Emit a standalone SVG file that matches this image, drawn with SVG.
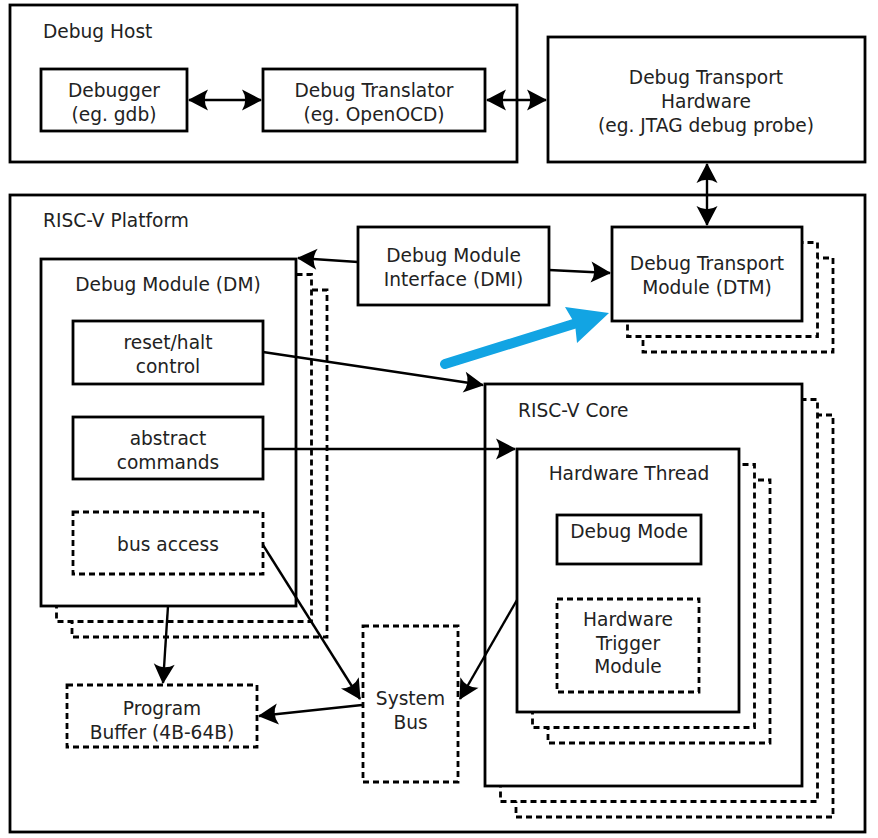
<svg xmlns="http://www.w3.org/2000/svg" width="878" height="838" viewBox="0 0 878 838">
<style>
.b{fill:#fff;stroke:#000;stroke-width:2.8}
.d{fill:#fff;stroke:#000;stroke-width:2.8;stroke-dasharray:6 4}
.c{fill:none;stroke:#000;stroke-width:2.4;marker-end:url(#ah)}
.c2{marker-start:url(#ah)}
text{font-family:"DejaVu Sans",sans-serif;font-size:18.6px;fill:#222}
.m{text-anchor:middle}
</style>
<defs>
<marker id="ah" viewBox="-21 -12 24 24" refX="0" refY="0" markerWidth="24" markerHeight="24" markerUnits="userSpaceOnUse" orient="auto-start-reverse">
<path d="M1,0 L-19,-10.5 Q-12.5,0 -19,10.5 Z" fill="#000"/>
</marker>
</defs>
<rect width="878" height="838" fill="#fff"/>
<g id="debug-host"><rect class="b" x="10" y="5" width="507" height="157"/><text x="43" y="38">Debug Host</text></g>
<g id="debugger"><rect class="b" x="41" y="69" width="146" height="62"/><text class="m" x="114" y="97">Debugger</text><text class="m" x="114" y="121">(eg. gdb)</text></g>
<g id="translator"><rect class="b" x="263" y="69" width="222" height="62"/><text class="m" x="374" y="97">Debug Translator</text><text class="m" x="374" y="121">(eg. OpenOCD)</text></g>
<g id="dth"><rect class="b" x="548" y="37" width="317" height="125"/><text class="m" x="706" y="84">Debug Transport</text><text class="m" x="706" y="108">Hardware</text><text class="m" x="706" y="132">(eg. JTAG debug probe)</text></g>
<g id="platform"><rect class="b" x="10" y="195" width="855" height="637"/><text x="43" y="227">RISC-V Platform</text></g>
<g id="dm"><rect class="d" x="72" y="290" width="255" height="347"/><rect class="d" x="56.5" y="274.5" width="255" height="347"/><rect class="b" x="41" y="259" width="255" height="347"/><text class="m" x="168" y="291">Debug Module (DM)</text></g>
<g id="reset"><rect class="b" x="73" y="321" width="190" height="63"/><text class="m" x="168" y="349">reset/halt</text><text class="m" x="168" y="373">control</text></g>
<g id="abstract"><rect class="b" x="73" y="417" width="190" height="62"/><text class="m" x="168" y="445">abstract</text><text class="m" x="168" y="469">commands</text></g>
<g id="bus-access"><rect class="d" x="73" y="512" width="190" height="62"/><text class="m" x="168" y="551">bus access</text></g>
<g id="program-buffer"><rect class="d" x="67" y="685" width="190" height="62"/><text class="m" x="162" y="715">Program</text><text class="m" x="162" y="739">Buffer (4B-64B)</text></g>
<g id="system-bus"><rect class="d" x="363" y="626" width="95" height="156"/><text class="m" x="410.5" y="705">System</text><text class="m" x="410.5" y="729">Bus</text></g>
<g id="core"><rect class="d" x="516" y="415" width="317" height="402"/><rect class="d" x="500.5" y="399.5" width="317" height="402"/><rect class="b" x="485" y="384" width="317" height="402"/><text x="518" y="417">RISC-V Core</text></g>
<g id="hart"><rect class="d" x="548" y="480" width="222" height="263"/><rect class="d" x="532.5" y="464.5" width="222" height="263"/><rect class="b" x="517" y="449" width="222" height="263"/><text class="m" x="629" y="480">Hardware Thread</text></g>
<g id="debug-mode"><rect class="b" x="557" y="515" width="144" height="49"/><text class="m" x="629" y="538">Debug Mode</text></g>
<g id="trigger"><rect class="d" x="557" y="599" width="142" height="93"/><text class="m" x="628" y="626">Hardware</text><text class="m" x="628" y="650">Trigger</text><text class="m" x="628" y="673">Module</text></g>
<g id="dmi"><rect class="b" x="358" y="227" width="191" height="78"/><text class="m" x="453.5" y="262">Debug Module</text><text class="m" x="453.5" y="286">Interface (DMI)</text></g>
<g id="dtm"><rect class="d" x="643" y="258" width="190" height="94"/><rect class="d" x="627.5" y="242.5" width="190" height="94"/><rect class="b" x="612" y="227" width="190" height="94"/><text class="m" x="707" y="270">Debug Transport</text><text class="m" x="707" y="294">Module (DTM)</text></g>
<g id="connectors">
<path class="c c2" d="M189,100 H261"/>
<path class="c c2" d="M487,100 H546"/>
<path class="c c2" d="M707,164 V225"/>
<path class="c" d="M358,262 L298,258"/>
<path class="c" d="M549,270 L610,273"/>
<path class="c" d="M263,352 L483,385"/>
<path class="c" d="M263,449 H515"/>
<path class="c" d="M168,606 L163,683"/>
<path class="c" d="M263,545 L360,699"/>
<path class="c" d="M517,600 L460,699"/>
<path class="c" d="M362,705 L259,716"/>
<g id="highlight">
<line x1="445" y1="364" x2="580" y2="322" stroke="#12a4e3" stroke-width="10" stroke-linecap="round"/>
<path d="M609,313 L565,307 L575,324 L577,343 Z" fill="#12a4e3"/>
</g>
</g>
</svg>
